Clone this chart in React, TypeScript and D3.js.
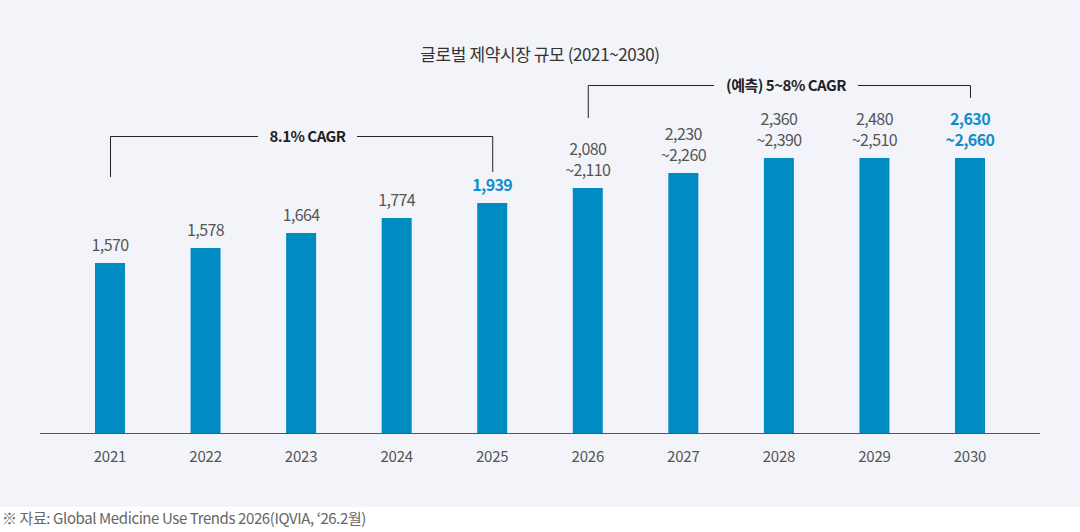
import { useEffect, useRef } from 'react';
import * as d3 from 'd3';

// Chart data
const years = ['2021', '2022', '2023', '2024', '2025', '2026', '2027', '2028', '2029', '2030'];
// lower bound (or actual) value in USD bn
const lowValues = [1570, 1578, 1664, 1774, 1939, 2080, 2230, 2360, 2480, 2630];
// upper bound for forecast years (null = actual)
const highValues: (number | null)[] = [null, null, null, null, null, 2110, 2260, 2390, 2510, 2660];
// visual bar step as drawn in the source graphic (stylised, not proportional)
const barStep = [1, 2, 3, 4, 5, 6, 7, 8, 8, 8];
const highlightYears = ['2025', '2030'];

const cagrBrackets = [
  { from: '2021', to: '2025', label: '8.1% CAGR', level: 0 },
  { from: '2026', to: '2030', label: '(예측) 5~8% CAGR', level: 1 },
];

const TITLE = '글로벌 제약시장 규모 (2021~2030)';
const SOURCE = '※ 자료: Global Medicine Use Trends 2026(IQVIA, ‘26.2월)';

const W = 1080;
const H = 532;
const FONT = '"Noto Sans CJK KR", "Noto Sans", sans-serif';
const BLUE = '#008bc2';
const LABEL_BLUE = '#0f8fca';

export default function App() {
  const svgRef = useRef<SVGSVGElement>(null);

  useEffect(() => {
    if (!svgRef.current) return;
    const svg = d3.select(svgRef.current);
    svg.selectAll('*').remove();

    const baseline = 433;
    const barW = 30;

    const x = d3.scalePoint<string>().domain(years).range([110, 970]);
    const y = d3.scaleLinear().domain([0, 8]).range([278, 158]);

    // panel background
    svg.append('rect')
      .attr('x', 0).attr('y', 0)
      .attr('width', W).attr('height', 507)
      .attr('fill', '#f3f4f9');

    // title
    svg.append('text')
      .attr('x', 540).attr('y', 61)
      .attr('text-anchor', 'middle')
      .style('font-size', '17px')
      .style('letter-spacing', '-0.4px')
      .attr('fill', '#333')
      .text(TITLE);

    // bars
    svg.selectAll('.bar')
      .data(years)
      .join('rect')
      .attr('class', 'bar')
      .attr('x', d => x(d)! - barW / 2)
      .attr('y', (_, i) => y(barStep[i]))
      .attr('width', barW)
      .attr('height', (_, i) => baseline - y(barStep[i]))
      .attr('fill', BLUE);

    // baseline
    svg.append('line')
      .attr('x1', 40).attr('x2', 1040)
      .attr('y1', baseline + 0.5).attr('y2', baseline + 0.5)
      .attr('stroke', '#555')
      .attr('stroke-width', 1);

    // year labels
    svg.selectAll('.year')
      .data(years)
      .join('text')
      .attr('class', 'year')
      .attr('x', d => x(d)!)
      .attr('y', 462)
      .attr('text-anchor', 'middle')
      .style('font-size', '15px')
      .style('letter-spacing', '-0.2px')
      .attr('fill', '#555')
      .text(d => d);

    // value labels
    const fmt = d3.format(',');
    years.forEach((yr, i) => {
      const hi = highValues[i];
      const lines = hi == null ? [fmt(lowValues[i])] : [fmt(lowValues[i]), '~' + fmt(hi)];
      const isHi = highlightYears.includes(yr);
      const top = y(barStep[i]);
      lines.forEach((t, j) => {
        svg.append('text')
          .attr('x', x(yr)!)
          .attr('y', top - 12 - (lines.length - 1 - j) * 21)
          .attr('text-anchor', 'middle')
          .style('font-size', '16px')
          .style('letter-spacing', '-0.6px')
          .style('font-weight', isHi ? 700 : 400)
          .attr('fill', isHi ? LABEL_BLUE : '#555')
          .text(t);
      });
    });

    // CAGR brackets
    const bracketY = [136, 85];
    const tickEnd = [[177, 172], [118, 98]];
    const gaps = [[258, 357], [714, 858]];
    cagrBrackets.forEach((b, k) => {
      const x0 = x(b.from)!;
      const x1 = x(b.to)!;
      const by = bracketY[b.level] + 0.5;
      const [g0, g1] = gaps[k];
      const path = d3.path();
      path.moveTo(x0 + 0.5, tickEnd[k][0]);
      path.lineTo(x0 + 0.5, by);
      path.lineTo(g0, by);
      path.moveTo(g1, by);
      path.lineTo(x1 + 0.5, by);
      path.lineTo(x1 + 0.5, tickEnd[k][1]);
      svg.append('path')
        .attr('d', path.toString())
        .attr('fill', 'none')
        .attr('stroke', '#222')
        .attr('stroke-width', 1);
      svg.append('text')
        .attr('x', (g0 + g1) / 2)
        .attr('y', by + 5)
        .attr('text-anchor', 'middle')
        .style('font-size', '15px')
        .style('font-weight', 700)
        .style('letter-spacing', '-0.5px')
        .attr('fill', '#222')
        .text(b.label);
    });

    // source note
    svg.append('text')
      .attr('x', 2).attr('y', 524)
      .style('font-size', '15px')
      .style('letter-spacing', '-0.4px')
      .attr('fill', '#666')
      .text(SOURCE);
  }, []);

  return (
    <div style={{ position: 'fixed', left: 0, top: 0, width: W, height: H, background: '#fff' }}>
      <svg ref={svgRef} width={W} height={H} style={{ display: 'block', fontFamily: FONT }} />
    </div>
  );
}
